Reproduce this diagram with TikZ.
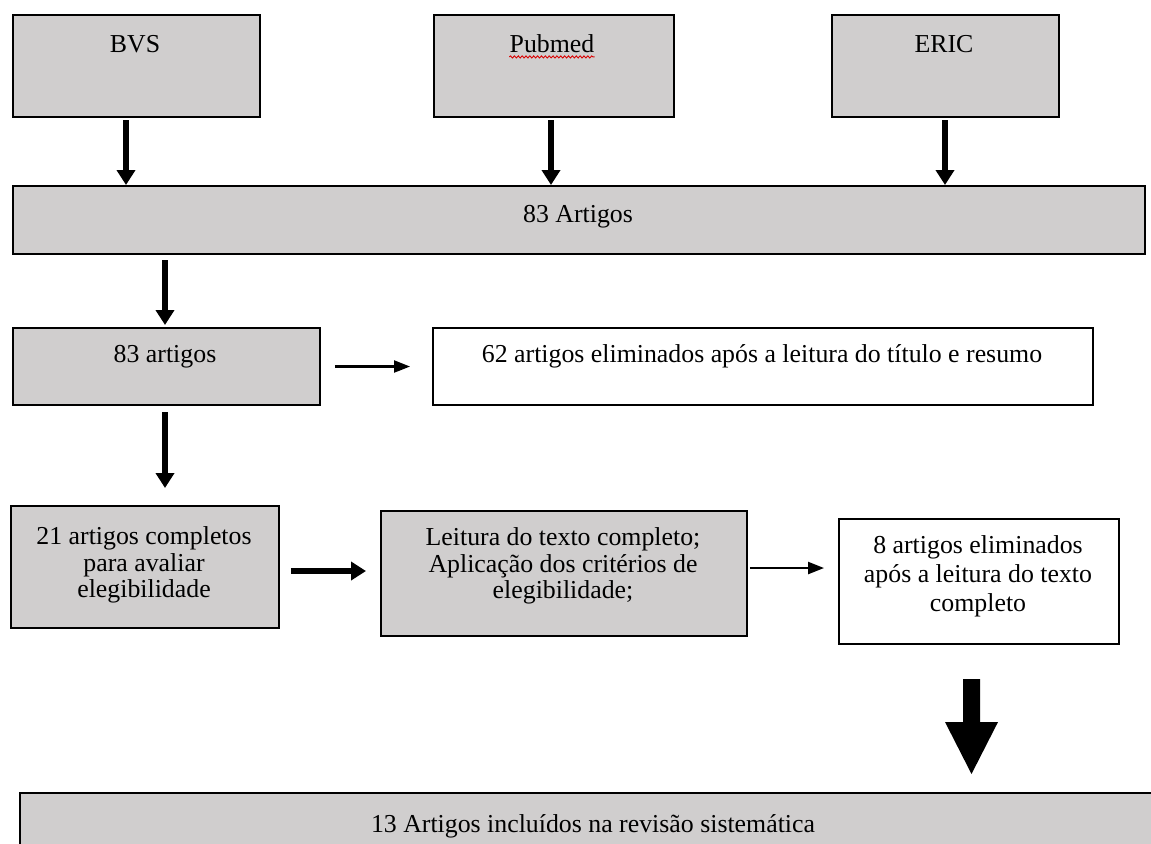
\documentclass[tikz,border=0pt]{standalone}
\usepackage{fontspec}
\setmainfont{Liberation Serif}
\usetikzlibrary{arrows.meta,decorations.pathmorphing}
\definecolor{boxgray}{HTML}{D0CECE}
\begin{document}
\begin{tikzpicture}[x=0.02cm,y=-0.02cm,
  gbox/.style={draw=black, line width=1.15pt, fill=boxgray, anchor=north west, inner sep=0pt},
  wbox/.style={draw=black, line width=1.15pt, fill=white, anchor=north west, inner sep=0pt},
  txt/.style={font=\fontsize{14.7}{15}\selectfont, inner sep=0pt, anchor=base},
  mtxt/.style={font=\fontsize{14.7}{15.1}\selectfont, align=center, inner sep=0pt},
  mtxtb/.style={font=\fontsize{14.7}{16.6}\selectfont, align=center, inner sep=0pt},
  bigarrow/.style={line width=0.12cm, -{Triangle[width=0.36cm,length=0.3cm]}},
  thinarrow/.style={line width=0.045cm, -{Triangle[width=0.24cm,length=0.32cm]}},
]
\useasboundingbox (0,0) rectangle (1151,843);
\clip (0,0) rectangle (1151,843);

% boxes
\node[gbox, minimum width=4.94cm, minimum height=2.04cm] (bvs) at (12,14) {};
\node[gbox, minimum width=4.80cm, minimum height=2.04cm] (pub) at (433,14) {};
\node[gbox, minimum width=4.54cm, minimum height=2.04cm] (eric) at (831,14) {};
\node[gbox, minimum width=22.64cm, minimum height=1.36cm] (all) at (12,185) {};
\node[gbox, minimum width=6.14cm, minimum height=1.54cm] (a83) at (12,327) {};
\node[wbox, minimum width=13.2cm, minimum height=1.54cm] (e62) at (432,327) {};
\node[gbox, minimum width=5.36cm, minimum height=2.44cm] (a21) at (10,505) {};
\node[gbox, minimum width=7.32cm, minimum height=2.5cm] (leit) at (380,510) {};
\node[wbox, minimum width=5.6cm, minimum height=2.5cm] (e8) at (838,518) {};
\node[gbox, minimum width=22.92cm, minimum height=1.9cm] (fin) at (19,792) {};

% texts
\node[txt] (tbvs) at (135,52) {BVS};
\node[txt] (tpub) at (552,52) {Pubmed};
\draw[red!85!black, line width=0.5pt, decorate, decoration={snake, amplitude=0.6pt, segment length=2.2pt}]
  ([yshift=-2.8pt]tpub.base west) -- ([yshift=-2.8pt]tpub.base east);
\node[txt] (teric) at (944,52) {ERIC};
\node[txt] (tall) at (578,222) {83 Artigos};
\node[txt] (ta83) at (165,362) {83 artigos};
\node[txt] (te62) at (762,362) {62 artigos eliminados após a leitura do título e resumo};
\node[mtxt] (ta21) at (144,565) {21 artigos completos\\para avaliar\\elegibilidade};
\node[mtxt] (tleit) at (563,566) {Leitura do texto completo;\\Aplicação dos critérios de\\elegibilidade;};
\node[mtxtb] (te8) at (978,576) {8 artigos eliminados\\após a leitura do texto\\completo};
\node[txt] (tfin) at (593,832) {13 Artigos incluídos na revisão sistemática};

% arrow columns / rows
\coordinate (c1) at (126,0);
\coordinate (c2) at (551,0);
\coordinate (c3) at (945,0);
\coordinate (c4) at (165,0);
\coordinate (r1) at (0,571);
\coordinate (r2) at (0,568);

\draw[bigarrow, shorten <=0.04cm] (bvs.south -| c1) -- (all.north -| c1);
\draw[bigarrow, shorten <=0.04cm] (pub.south -| c2) -- (all.north -| c2);
\draw[bigarrow, shorten <=0.04cm] (eric.south -| c3) -- (all.north -| c3);
\draw[bigarrow, shorten <=0.1cm, shorten >=0.04cm] (all.south -| c4) -- (a83.north -| c4);
\draw[thinarrow, shorten <=0.28cm, shorten >=0.44cm] (a83.east) -- (e62.west);
\draw[bigarrow, shorten <=0.12cm, shorten >=0.34cm] (a83.south -| c4) -- (a21.north -| c4);
\draw[bigarrow, shorten <=0.22cm, shorten >=0.28cm] (a21.east |- r1) -- (leit.west |- r1);
\draw[thinarrow, shorten <=0.04cm, shorten >=0.28cm] (leit.east |- r2) -- (e8.west |- r2);

% fat arrow
\coordinate (fx) at (971.5,0);
\coordinate (fa) at (e8.south -| fx);
\fill[black, shift={(fa)}] (-8.5,34) -- (8.5,34) -- (8.5,77) -- (26.5,77) -- (0,129)
  -- (-26.5,77) -- (-8.5,77) -- cycle;
\end{tikzpicture}
\end{document}
